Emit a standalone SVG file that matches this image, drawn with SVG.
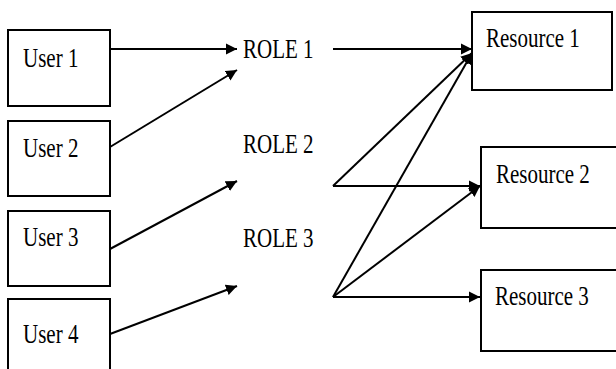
<svg xmlns="http://www.w3.org/2000/svg" width="616" height="369" viewBox="0 0 616 369">
  <style>
    .box { fill: #ffffff; stroke: #000000; stroke-width: 2; }
    .lbl { font-family: "Liberation Serif", "Times New Roman", serif; font-size: 21px; fill: #000000; }
    .edge { stroke: #000000; stroke-width: 2; fill: none; marker-end: url(#arrow); }
  </style>
  <defs>
    <marker id="arrow" markerUnits="userSpaceOnUse" markerWidth="12" markerHeight="12" refX="11" refY="6" orient="auto">
      <path d="M0,0.5 L11,6 L0,11.5 z" fill="#000000"/>
    </marker>
  </defs>
  <rect width="616" height="369" fill="#ffffff"/>

  <!-- users -->
  <g id="user1">
    <rect class="box" x="8" y="30" width="102" height="76"/>
    <text class="lbl" transform="translate(23,67) scale(1,1.3)">User 1</text>
  </g>
  <g id="user2">
    <rect class="box" x="8" y="121" width="102" height="75"/>
    <text class="lbl" transform="translate(23,157) scale(1,1.3)">User 2</text>
  </g>
  <g id="user3">
    <rect class="box" x="8" y="211" width="102" height="75"/>
    <text class="lbl" transform="translate(23,246) scale(1,1.3)">User 3</text>
  </g>
  <g id="user4">
    <rect class="box" x="8" y="299" width="102" height="90"/>
    <text class="lbl" transform="translate(23,343) scale(1,1.3)">User 4</text>
  </g>

  <!-- roles -->
  <g id="role1">
    <text class="lbl" transform="translate(243,58) scale(1,1.3)">ROLE 1</text>
  </g>
  <g id="role2">
    <text class="lbl" transform="translate(243,153) scale(1,1.3)">ROLE 2</text>
  </g>
  <g id="role3">
    <text class="lbl" transform="translate(243,247) scale(1,1.3)">ROLE 3</text>
  </g>

  <!-- resources -->
  <g id="resource1">
    <rect class="box" x="472" y="12" width="140" height="78"/>
    <text class="lbl" transform="translate(486,47) scale(1,1.3)">Resource 1</text>
  </g>
  <g id="resource2">
    <rect class="box" x="481" y="147" width="150" height="81"/>
    <text class="lbl" transform="translate(496,183) scale(1,1.3)">Resource 2</text>
  </g>
  <g id="resource3">
    <rect class="box" x="481" y="270" width="150" height="81"/>
    <text class="lbl" transform="translate(495,305) scale(1,1.3)">Resource 3</text>
  </g>

  <!-- connectors -->
  <g id="connectors">
    <line class="edge" x1="110" y1="49" x2="237" y2="49"/>
    <line class="edge" x1="110" y1="147" x2="237" y2="70"/>
    <line class="edge" x1="110" y1="249" x2="237" y2="181"/>
    <line class="edge" x1="110" y1="334" x2="237" y2="286"/>
    <line class="edge" x1="333" y1="49" x2="472" y2="49"/>
    <line class="edge" x1="333" y1="186" x2="472" y2="53"/>
    <line class="edge" x1="333" y1="186" x2="480" y2="186"/>
    <line class="edge" x1="333" y1="297" x2="472" y2="53"/>
    <line class="edge" x1="333" y1="297" x2="480" y2="186"/>
    <line class="edge" x1="333" y1="297" x2="480" y2="297"/>
  </g>
</svg>
